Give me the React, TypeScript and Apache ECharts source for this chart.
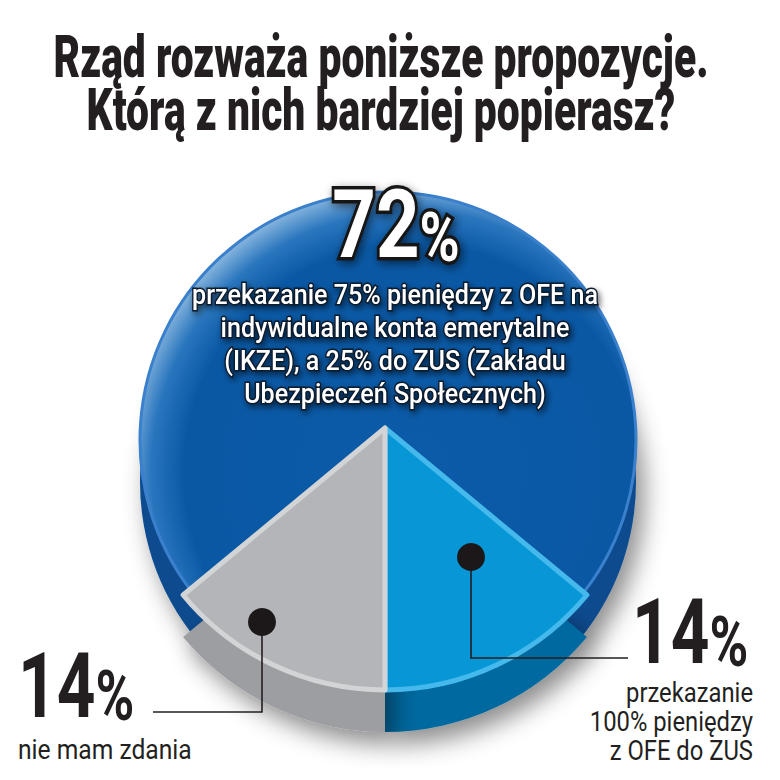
import React, { useEffect, useRef } from 'react';
import * as echarts from 'echarts';

const titleLines = ['Rząd rozważa poniższe propozycje.', 'Którą z nich bardziej popierasz?'];
const categories = [
  'przekazanie 75% pieniędzy z OFE na indywidualne konta emerytalne (IKZE), a 25% do ZUS (Zakładu Ubezpieczeń Społecznych)',
  'przekazanie 100% pieniędzy z OFE do ZUS',
  'nie mam zdania',
];
const values = [72, 14, 14];
const descLines = [
  ['przekazanie 75% pieniędzy z OFE na', 'indywidualne konta emerytalne', '(IKZE), a 25% do ZUS (Zakładu', 'Ubezpieczeń Społecznych)'],
  ['przekazanie', '100% pieniędzy', 'z OFE do ZUS'],
  ['nie mam zdania'],
];

const FONT = "Roboto, 'Liberation Sans', sans-serif";
const DARK = '#231f20';
const NONE = 'rgba(0,0,0,0)';

export default function App() {
  const ref = useRef<HTMLDivElement>(null);
  useEffect(() => {
    if (!ref.current) return;
    const chart = echarts.init(ref.current, null, { renderer: 'svg' });
    const bigC = [388, 440];
    const bigR = 248;
    const smallC = [385, 428];
    const smallR = 262;
    const depth = 42;

    const bigTop = {
      type: 'radial',
      x: 412,
      y: 472,
      r: 300,
      global: true,
      colorStops: [
        { offset: 0, color: '#0b5ba8' },
        { offset: 0.76, color: '#0a58a4' },
        { offset: 0.87, color: '#2a76be' },
        { offset: 0.96, color: '#88b6de' },
        { offset: 1, color: '#b3d0ea' },
      ],
    };
    const topColors: any[] = [bigTop, '#0897d6', '#b4b5b8'];
    const topBorders = ['#3a80cc', '#45b9ec', '#d3d4d6'];
    const topBorderW = [3, 5, 5];
    const sideColors = ['#0b4b8e', '#03699f', '#9d9ea2'];

    const layer = (useBig: boolean, colors: any[], withBorder: boolean) =>
      values.map((v, i) => {
        const visible = useBig ? i === 0 : i > 0;
        return {
          name: categories[i],
          value: v,
          itemStyle: visible
            ? {
                color: colors[i],
                borderColor: withBorder ? topBorders[i] : colors[i],
                borderWidth: withBorder ? topBorderW[i] : 0,
              }
            : { color: NONE, borderWidth: 0, shadowBlur: 0 },
        };
      });

    const baseSeries = {
      type: 'pie',
      startAngle: 219.6,
      clockwise: true,
      silent: true,
      label: { show: false },
      labelLine: { show: false },
      emphasis: { disabled: true },
    };
    const sideShadow = {
      shadowColor: 'rgba(0,0,0,0.45)',
      shadowBlur: 24,
      shadowOffsetX: 8,
      shadowOffsetY: 12,
    };

    const graphic: any[] = [];
    titleLines.forEach((t, i) => {
      graphic.push({
        type: 'text',
        x: 381,
        y: 57 + i * 53,
        scaleX: 0.68,
        z: 100,
        style: {
          text: t,
          x: 0,
          y: 0,
          align: 'center',
          textAlign: 'center',
          verticalAlign: 'middle',
          textVerticalAlign: 'middle',
          fontSize: 60,
          fontWeight: 900,
          fontFamily: FONT,
          fill: DARK,
        },
      });
    });

    graphic.push({
      type: 'text',
      x: 396,
      y: 224,
      scaleX: 0.8,
      z: 100,
      style: {
        text: '{n|' + values[0] + '}{p|%}',
        x: 0,
        y: 0,
        align: 'center',
        textAlign: 'center',
        verticalAlign: 'middle',
        textVerticalAlign: 'middle',
        fill: '#ffffff',
        stroke: '#141414',
        lineWidth: 7,
        textShadowColor: 'rgba(0,0,0,0.55)',
        textShadowBlur: 10,
        textShadowOffsetX: 2,
        textShadowOffsetY: 3,
        rich: {
          n: { fontSize: 95, fontWeight: 'bold', fontFamily: FONT, verticalAlign: 'bottom' },
          p: { fontSize: 68, fontWeight: 'bold', fontFamily: FONT, verticalAlign: 'bottom' },
        },
      },
    });
    graphic.push({
      type: 'text',
      x: 395,
      y: 344,
      scaleX: 0.93,
      z: 100,
      style: {
        text: descLines[0].join('\n'),
        x: 0,
        y: 0,
        align: 'center',
        textAlign: 'center',
        verticalAlign: 'middle',
        textVerticalAlign: 'middle',
        lineHeight: 33,
        fontSize: 27,
        fontWeight: 500,
        fontFamily: FONT,
        fill: '#ffffff',
        stroke: '#0d1a2a',
        lineWidth: 3,
        textShadowColor: 'rgba(0,0,0,0.6)',
        textShadowBlur: 6,
        textShadowOffsetX: 2,
        textShadowOffsetY: 3,
      },
    });

    const bigNum = (x: number, y: number, v: number) => ({
      type: 'text',
      x,
      y,
      scaleX: 0.75,
      z: 100,
      style: {
        text: '{n|' + v + '}{p|%}',
        x: 0,
        y: 0,
        align: 'left',
        textAlign: 'left',
        verticalAlign: 'middle',
        textVerticalAlign: 'middle',
        fill: DARK,
        rich: {
          n: { fontSize: 90, fontWeight: 'bold', fontFamily: FONT, verticalAlign: 'bottom' },
          p: { fontSize: 70, fontWeight: 'bold', fontFamily: FONT, verticalAlign: 'bottom' },
        },
      },
    });

    graphic.push({
      type: 'polyline',
      z: 100,
      shape: { points: [[471, 557], [471, 658], [628, 658]] },
      style: { stroke: DARK, lineWidth: 1.6, fill: null },
    });
    graphic.push({ type: 'circle', z: 101, shape: { cx: 471, cy: 557, r: 14 }, style: { fill: '#1c1819' } });
    graphic.push(bigNum(632, 632, values[1]));
    graphic.push({
      type: 'text',
      x: 753,
      y: 721,
      scaleX: 0.85,
      z: 100,
      style: {
        text: descLines[1].join('\n'),
        x: 0,
        y: 0,
        align: 'right',
        textAlign: 'right',
        verticalAlign: 'middle',
        textVerticalAlign: 'middle',
        lineHeight: 29,
        fontSize: 28,
        fontFamily: FONT,
        fill: DARK,
      },
    });

    graphic.push({
      type: 'polyline',
      z: 100,
      shape: { points: [[262, 622], [262, 712], [153, 712]] },
      style: { stroke: DARK, lineWidth: 1.6, fill: null },
    });
    graphic.push({ type: 'circle', z: 101, shape: { cx: 262, cy: 622, r: 14 }, style: { fill: '#1c1819' } });
    graphic.push(bigNum(18, 686, values[2]));
    graphic.push({
      type: 'text',
      x: 18,
      y: 749,
      scaleX: 0.88,
      z: 100,
      style: {
        text: descLines[2].join('\n'),
        x: 0,
        y: 0,
        align: 'left',
        textAlign: 'left',
        verticalAlign: 'middle',
        textVerticalAlign: 'middle',
        fontSize: 28,
        fontFamily: FONT,
        fill: DARK,
      },
    });

    chart.setOption({
      animation: false,
      backgroundColor: '#ffffff',
      series: [
        {
          ...baseSeries,
          name: 'bigSide',
          center: [bigC[0], bigC[1] + depth],
          radius: bigR,
          itemStyle: sideShadow,
          data: layer(true, sideColors, false),
          z: 1,
        },
        {
          ...baseSeries,
          name: 'smallSide',
          center: [smallC[0], smallC[1] + depth],
          radius: smallR,
          itemStyle: sideShadow,
          data: layer(false, sideColors, false),
          z: 1,
        },
        {
          ...baseSeries,
          name: 'bigTop',
          center: bigC,
          radius: bigR,
          data: layer(true, topColors, true),
          z: 2,
        },
        {
          ...baseSeries,
          name: 'smallTop',
          center: smallC,
          radius: smallR,
          data: layer(false, topColors, true),
          z: 3,
        },
      ],
      graphic: { elements: graphic },
    });
    return () => chart.dispose();
  }, []);
  return (
    <div
      ref={ref}
      style={{ position: 'fixed', left: 0, top: 0, width: 780, height: 780, background: '#fff' }}
    />
  );
}
